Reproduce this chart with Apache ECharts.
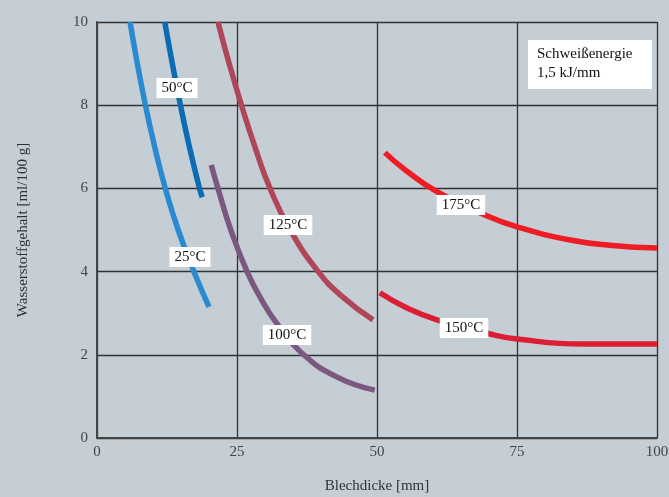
<!DOCTYPE html>
<html>
<head>
<meta charset="utf-8">
<script src="https://cdn.jsdelivr.net/npm/echarts@6/dist/echarts.min.js"></script>
<style>
html,body{margin:0;padding:0;background:#c5ced5;}
#chart{width:669px;height:497px;}
</style>
</head>
<body>
<div id="chart"></div>
<script>
const xTicks = [0, 25, 50, 75, 100];
const yTicks = [0, 2, 4, 6, 8, 10];
const seriesNames = ['25°C', '50°C', '100°C', '125°C', '150°C', '175°C'];
const s25 = [[5.9,10],[7.2,9],[8.65,8],[10.3,7],[12.2,6],[14.5,5],[17.3,4],[20.0,3.15]];
const s50 = [[12.1,10],[13.45,9],[14.9,8],[16.5,7],[18.3,6],[18.8,5.79]];
const s100 = [[20.4,6.56],[21.6,6],[23.9,5],[26.8,4],[29.4,3.32],[32.3,2.72],[36.5,2.05],[42.8,1.47],[49.6,1.15]];
const s125 = [[21.6,10],[23.6,9],[25.8,8],[28.2,7],[30.9,6],[34.5,5],[39.5,4],[43.8,3.4],[49.3,2.84]];
const s150 = [[50.5,3.49],[55,3.15],[60.7,2.84],[70.2,2.5],[75,2.38],[86.8,2.26],[100,2.26]];
const s175 = [[51.4,6.86],[55,6.45],[60.7,5.92],[69.3,5.36],[74.9,5.08],[84.5,4.76],[92,4.63],[100,4.57]];
const energyLines = ['Schweißenergie', '1,5 kJ/mm'];

const font = 'Liberation Serif';
const colors = ['#2a8ad0', '#0a6cb5', '#7a5880', '#b0465a', '#dc1e35', '#ee1c25'];
const datas = [s25, s50, s100, s125, s150, s175];

const chart = echarts.init(document.getElementById('chart'));
const labelPos = [[190,257],[177,88],[287,335],[288,225],[464,328],[461,205]];

chart.setOption({
  backgroundColor: '#c5ced5',
  animation: false,
  grid: {left: 97, right: 12, top: 22, bottom: 59, containLabel: false, outerBoundsMode: 'none'},
  xAxis: {
    type: 'value', min: 0, max: 100, interval: 25,
    name: 'Blechdicke [mm]', nameLocation: 'middle', nameGap: 41,
    nameTextStyle: {fontFamily: font, fontSize: 15, color: '#333'},
    axisLine: {show: true, lineStyle: {color: '#444', width: 2}},
    axisTick: {show: false},
    axisLabel: {fontFamily: font, fontSize: 15, color: '#444', margin: 7,
      formatter: v => xTicks.includes(v) ? String(v) : ''},
    splitLine: {show: true, lineStyle: {color: '#333', width: 1.3}}
  },
  yAxis: {
    type: 'value', min: 0, max: 10, interval: 2,
    name: 'Wasserstoffgehalt [ml/100 g]', nameLocation: 'middle', nameGap: 66,
    nameTextStyle: {fontFamily: font, fontSize: 15, color: '#333'},
    axisLine: {show: true, lineStyle: {color: '#444', width: 2}},
    axisTick: {show: false},
    axisLabel: {fontFamily: font, fontSize: 15, color: '#444', margin: 9,
      formatter: v => yTicks.includes(v) ? String(v) : ''},
    splitLine: {show: true, lineStyle: {color: '#333', width: 1.3}}
  },
  series: datas.map((d, i) => ({
    type: 'line', name: seriesNames[i], data: d, smooth: true,
    showSymbol: false, symbol: 'none',
    lineStyle: {color: colors[i], width: 5.5, cap: 'butt'},
    z: 3
  })),
  graphic: seriesNames.map((n, i) => ({
    type: 'text', x: labelPos[i][0], y: labelPos[i][1], z: 10,
    style: {text: n, font: '15px "Liberation Serif"', fill: '#111',
      align: 'center', verticalAlign: 'middle',
      backgroundColor: '#fff', padding: [3, 5, 2, 5]}
  })).concat([{
    type: 'rect', shape: {x: 528, y: 40, width: 124, height: 49}, z: 10,
    style: {fill: '#fff'}
  }, {
    type: 'text', x: 537, y: 45, z: 11,
    style: {text: energyLines.join('\n'), font: '15px "Liberation Serif"', fill: '#111',
      lineHeight: 19, align: 'left', verticalAlign: 'top'}
  }])
});
</script>
</body>
</html>
